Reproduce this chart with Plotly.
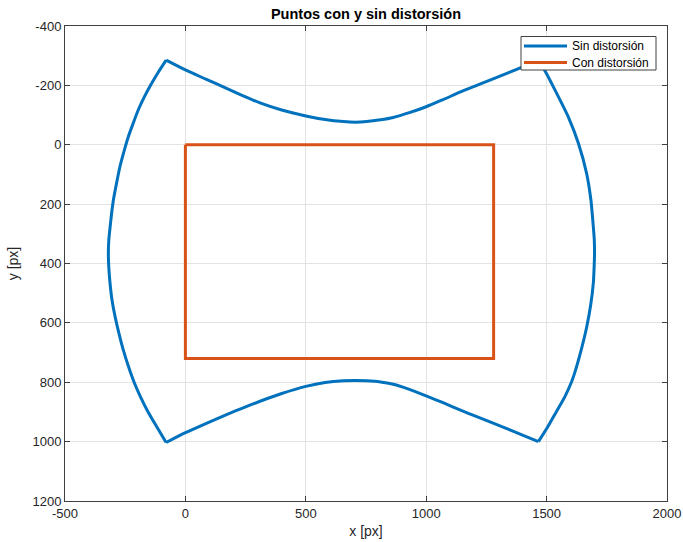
import plotly.graph_objects as go

# Undistorted ("Sin distorsión") boundary, split at cusps
top_x = [-80, 0, 85, 171, 240, 310, 400, 500, 580, 656, 705, 753, 810, 863, 930, 1000, 1070, 1140, 1210, 1278, 1340, 1396, 1464]
top_y = [-285, -252, -221, -190, -165, -141, -117, -97, -85, -78, -76, -78, -84, -92, -108, -128, -152, -177, -200, -222, -242, -261, -285]
right_x = [1464, 1493, 1535, 1590, 1632, 1666, 1684, 1694, 1698, 1699, 1697, 1694, 1683, 1667, 1644, 1616, 1603, 1575, 1540, 1505, 1466]
right_y = [-285, -249, -184, -94, -5, 96, 186, 276, 320, 370, 420, 466, 540, 612, 690, 770, 800, 850, 900, 950, 1000]
bottom_x = [1466, 1400, 1340, 1278, 1210, 1140, 1070, 1000, 930, 863, 810, 753, 705, 656, 580, 500, 400, 310, 240, 171, 85, 0, -80]
bottom_y = [1000, 978, 958, 938, 916, 893, 869, 846, 824, 807, 799, 795, 794, 795, 801, 814, 838, 864, 886, 909, 939, 970, 1003]
left_x = [-80, -119, -155, -186, -213, -236, -258, -276, -292, -305, -313, -318, -320, -318, -313, -307, -299, -286, -272, -255, -237, -217, -196, -170, -140, -112, -80]
left_y = [1003, 950, 900, 850, 800, 748, 691, 635, 579, 522, 466, 415, 370, 320, 280, 235, 186, 130, 74, 22, -27, -72, -117, -162, -207, -245, -285]

# Distorted ("Con distorsión") rectangle
rect_x = [0, 1280, 1280, 0, 0]
rect_y = [0, 0, 720, 720, 0]

# Tick labels (hyphen minus as in the reference)
x_ticks = [-500, 0, 500, 1000, 1500, 2000]
x_tick_text = ["-500", "0", "500", "1000", "1500", "2000"]
y_ticks = [-400, -200, 0, 200, 400, 600, 800, 1000, 1200]
y_tick_text = ["-400", "-200", "0", "200", "400", "600", "800", "1000", "1200"]

legend_names = ["Sin distorsión", "Con distorsión"]

BLUE = "#0072BD"
ORANGE = "#D95319"
FONT = "Liberation Sans, Arial, sans-serif"

W, H = 683, 542
ML, MR, MT, MB = 65, 16, 26, 41
PW, PH = W - ML - MR, H - MT - MB


def px_x(p):
    return (p - ML) / PW


def px_y(p):
    return (H - MB - p) / PH


fig = go.Figure()
segments = [(top_x, top_y), (right_x, right_y), (bottom_x, bottom_y), (left_x, left_y)]
for sx, sy in segments:
    fig.add_trace(go.Scatter(
        x=sx, y=sy, mode="lines",
        line=dict(color=BLUE, width=3, shape="spline", smoothing=0.6),
        name=legend_names[0], showlegend=False,
    ))
fig.add_trace(go.Scatter(
    x=rect_x, y=rect_y, mode="lines",
    line=dict(color=ORANGE, width=3),
    name=legend_names[1], showlegend=False,
))

# Legend box (MATLAB style) drawn in paper coordinates
fig.add_shape(type="rect", xref="paper", yref="paper",
              x0=px_x(521), x1=px_x(656), y0=px_y(70), y1=px_y(36.5),
              line=dict(color="#404040", width=1), fillcolor="white", layer="above")
for i, (name, col) in enumerate(zip(legend_names, [BLUE, ORANGE])):
    yy = 46 + i * 16.5
    fig.add_shape(type="line", xref="paper", yref="paper",
                  x0=px_x(524), x1=px_x(567), y0=px_y(yy), y1=px_y(yy),
                  line=dict(color=col, width=3), layer="above")
    fig.add_annotation(xref="paper", yref="paper", x=px_x(570), y=px_y(yy),
                       text=name, showarrow=False, xanchor="left", yanchor="middle",
                       font=dict(family=FONT, size=12, color="#000000"))

axis_common = dict(
    showgrid=True, gridcolor="#e3e3e3", gridwidth=1,
    showline=True, linecolor="#404040", linewidth=1, mirror="ticks",
    ticks="inside", ticklen=5, tickcolor="#404040",
    zeroline=False, automargin=False, tickmode="array",
    tickfont=dict(family=FONT, size=13, color="#262626"),
)

fig.update_layout(
    width=W, height=H,
    margin=dict(l=ML, r=MR, t=MT, b=MB),
    paper_bgcolor="white", plot_bgcolor="white",
    title=dict(text="<b>Puntos con y sin distorsión</b>", x=0.5, xref="paper", y=1 - 14 / H, yref="container",
               xanchor="center", yanchor="middle",
               font=dict(family=FONT, size=14.5, color="#000000")),
    xaxis=dict(range=[-500, 2000], tickvals=x_ticks, ticktext=x_tick_text,
               title=dict(text="x [px]", standoff=6, font=dict(family=FONT, size=14, color="#262626")),
               **axis_common),
    yaxis=dict(range=[1200, -400], tickvals=y_ticks, ticktext=y_tick_text,
               title=dict(text="y [px]", standoff=10, font=dict(family=FONT, size=14, color="#262626")),
               **axis_common),
    showlegend=False,
)

fig.write_html("out.html", config={"displayModeBar": False},
               post_script="document.body.style.margin='0px';")
